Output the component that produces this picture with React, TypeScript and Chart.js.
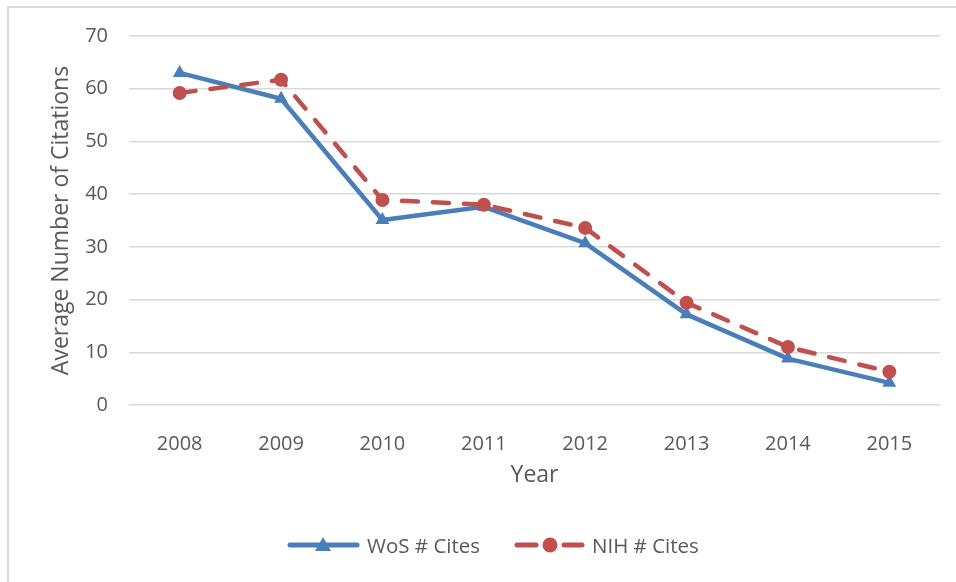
import React, { useEffect, useRef } from "react";
import { Chart, registerables } from "chart.js";

Chart.register(...registerables);

const YEARS = ["2008", "2009", "2010", "2011", "2012", "2013", "2014", "2015"];
const WOS_CITES = [63.0, 58.1, 35.1, 37.6, 30.7, 17.2, 8.8, 4.2];
const NIH_CITES = [59.2, 61.7, 38.9, 38.0, 33.6, 19.4, 11.0, 6.3];
const SERIES_NAMES = ["WoS # Cites", "NIH # Cites"];
const Y_MIN = 0;
const Y_MAX = 70;
const Y_STEP = 10;
const X_TITLE = "Year";
const Y_TITLE = "Average Number of Citations";

const BLUE = "#4a7ebb";
const RED = "#c0504d";
const TEXT = "#595959";
const GRID = "#d9d9d9";
const FONT = "'Open Sans', sans-serif";

export default function App() {
  const ref = useRef<HTMLCanvasElement | null>(null);

  useEffect(() => {
    if (!ref.current) return;
    const chart = new Chart(ref.current, {
      type: "line",
      data: {
        labels: YEARS,
        datasets: [
          {
            label: SERIES_NAMES[0],
            data: WOS_CITES,
            borderColor: BLUE,
            backgroundColor: BLUE,
            borderWidth: 4.5,
            pointStyle: "triangle",
            pointRadius: 8,
            pointBorderWidth: 0,
            tension: 0,
            borderJoinStyle: "round",
            order: 2,
          },
          {
            label: SERIES_NAMES[1],
            data: NIH_CITES,
            borderColor: RED,
            backgroundColor: RED,
            borderWidth: 4.5,
            borderDash: [16, 15],
            borderCapStyle: "round",
            pointStyle: "circle",
            pointRadius: 7,
            pointBorderWidth: 0,
            tension: 0,
            order: 1,
          },
        ],
      },
      options: {
        animation: false,
        responsive: false,
        maintainAspectRatio: false,
        layout: { padding: { left: 44, top: 36, right: 16, bottom: 89 } },
        plugins: {
          legend: { display: false },
          tooltip: { enabled: false },
        },
        scales: {
          x: {
            offset: true,
            grid: { display: false },
            border: { display: false },
            ticks: { color: TEXT, font: { family: FONT, size: 20 }, padding: 19, maxRotation: 0 },
            title: { display: true, text: X_TITLE, color: TEXT, font: { family: FONT, size: 23 }, padding: { top: 4, bottom: 4 } },
            afterFit: (s: any) => { s.height = 88; },
          },
          y: {
            min: Y_MIN,
            max: Y_MAX,
            grid: { color: GRID, lineWidth: 1.5, drawTicks: false },
            border: { display: false },
            ticks: { stepSize: Y_STEP, color: TEXT, font: { family: FONT, size: 20 }, padding: 21 },
            title: { display: true, text: Y_TITLE, color: TEXT, font: { family: FONT, size: 23 }, padding: { top: 4, bottom: 4 } },
            afterFit: (s: any) => { s.width = 85; },
          },
        },
      },
    });
    return () => chart.destroy();
  }, []);

  const textStyle: React.CSSProperties = {
    position: "absolute",
    top: 545,
    transform: "translateY(-50%)",
    fontFamily: FONT,
    fontSize: 20.5,
    color: TEXT,
    whiteSpace: "nowrap",
    lineHeight: "24px",
  };

  return (
    <div style={{ position: "fixed", left: 0, top: 0, width: 956, height: 582, background: "#fff", overflow: "hidden" }}>
      <div
        style={{
          position: "absolute",
          left: 7,
          top: 6,
          width: 2000,
          height: 2000,
          borderLeft: `2px solid ${GRID}`,
          borderTop: `2px solid ${GRID}`,
        }}
      />
      <canvas ref={ref} width={956} height={582} style={{ position: "absolute", left: 0, top: 0 }} />
      <svg width={956} height={582} style={{ position: "absolute", left: 0, top: 0, pointerEvents: "none" }}>
        <line x1={290} y1={545} x2={357} y2={545} stroke={BLUE} strokeWidth={5} strokeLinecap="round" />
        <polygon points="323,537 331,551 315,551" fill={BLUE} />
        <line x1={517} y1={545} x2={536} y2={545} stroke={RED} strokeWidth={5} strokeLinecap="round" />
        <line x1={564} y1={545} x2={582} y2={545} stroke={RED} strokeWidth={5} strokeLinecap="round" />
        <circle cx={550} cy={545} r={7.5} fill={RED} />
      </svg>
      <span style={{ ...textStyle, left: 367 }}>{SERIES_NAMES[0]}</span>
      <span style={{ ...textStyle, left: 592 }}>{SERIES_NAMES[1]}</span>
    </div>
  );
}
